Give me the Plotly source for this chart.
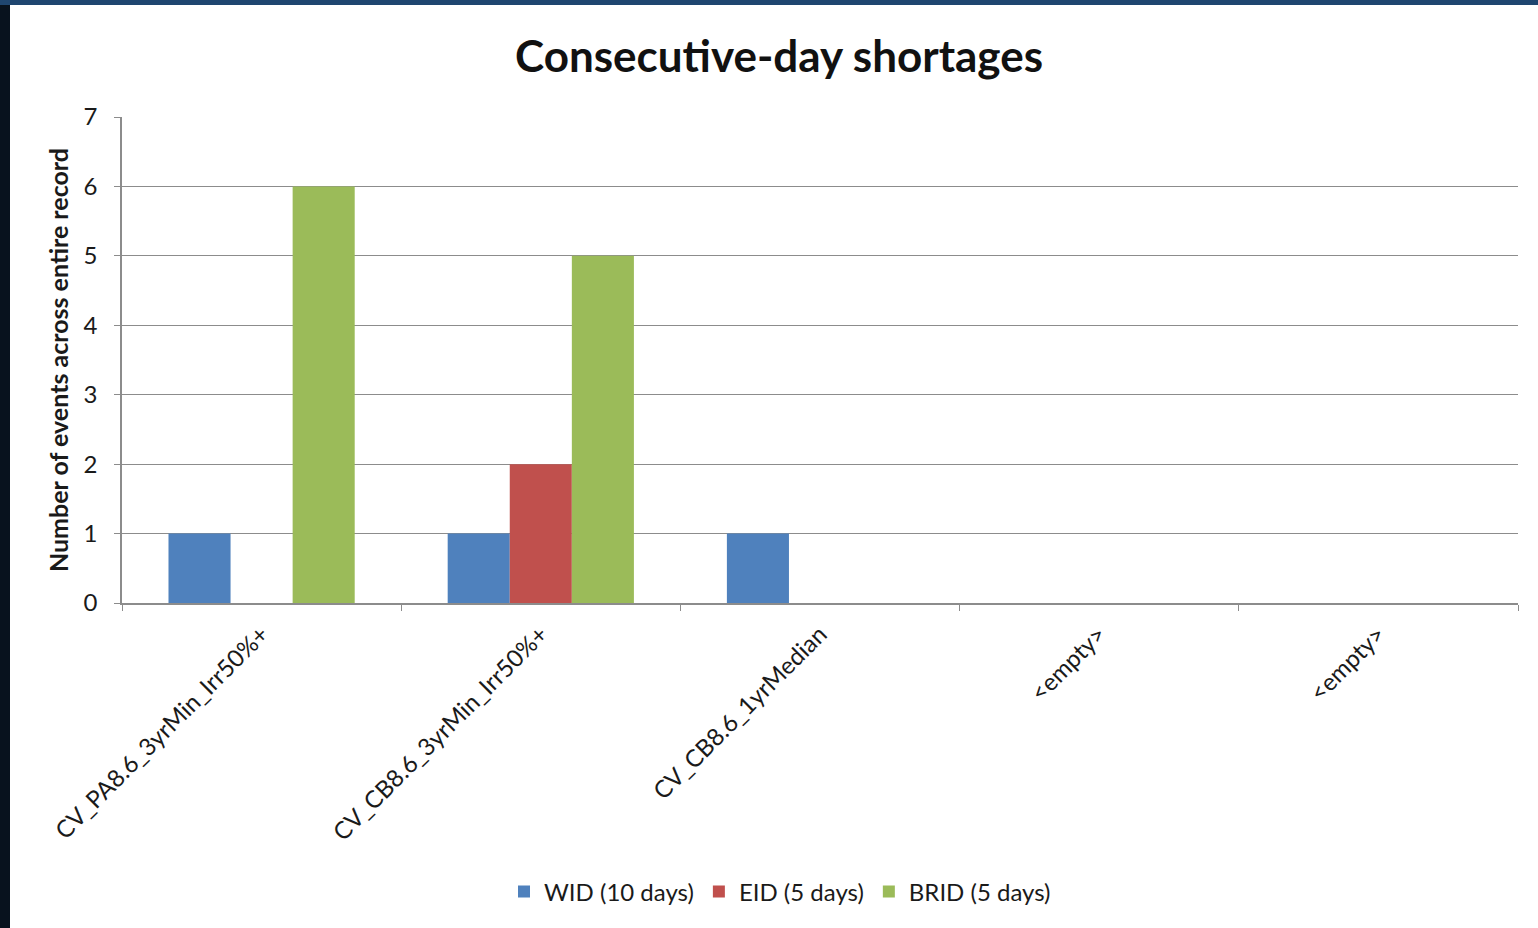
import plotly.graph_objects as go

categories = ["CV_PA8.6_3yrMin_Irr50%+", "CV_CB8.6_3yrMin_Irr50%+", "CV_CB8.6_1yrMedian",
              "&lt;empty&gt;", "&lt;empty&gt;"]
wid = [1, 1, 1, None, None]
eid = [None, 2, None, None, None]
brid = [6, 5, None, None, None]
series_names = ["WID (10 days)", "EID (5 days)", "BRID (5 days)"]
colors = ["#4F81BD", "#C0504D", "#9BBB59"]

xpos = list(range(len(categories)))
FONT = "Lato, 'Open Sans', sans-serif"

fig = go.Figure()
for name, vals, col in zip(series_names, [wid, eid, brid], colors):
    fig.add_trace(go.Bar(x=xpos, y=vals, name=name, marker_color=col, marker_line_width=0))

W, H = 1538, 928
L, R, T, B = 122, 20, 117, 325
pw, ph = W - L - R, H - T - B

fig.update_layout(
    width=W, height=H,
    margin=dict(l=L, r=R, t=T, b=B),
    paper_bgcolor="white", plot_bgcolor="white",
    barmode="group", bargap=0.333, bargroupgap=0,
    font=dict(family=FONT, size=24, color="#1a1a1a"),
    title=dict(text="<b>Consecutive-day shortages</b>", font=dict(size=44, color="#111"),
               x=(779 - L) / pw, xref="paper", xanchor="center",
               y=1 - 57 / H, yref="container", yanchor="middle"),
    legend=dict(orientation="h", x=(780 - L) / pw, xanchor="center",
                y=(T + ph - 892) / ph, yanchor="middle",
                font=dict(size=24), itemwidth=30, traceorder="normal"),
    xaxis=dict(range=[-0.5, len(categories) - 0.5], tickmode="array", tickvals=xpos,
               ticktext=categories, tickangle=-45, ticks="", showgrid=False,
               showline=True, linecolor="#8c8c8c", linewidth=1.5,
               tickfont=dict(size=24), ticklabelstandoff=6,
               minor=dict(tickmode="linear", tick0=-0.5, dtick=1, ticks="outside",
                          ticklen=6, tickcolor="#8c8c8c", showgrid=False)),
    yaxis=dict(range=[0, 7], dtick=1, showgrid=True, gridcolor="#8c8c8c", gridwidth=1.2,
               showline=True, linecolor="#8c8c8c", linewidth=1.5, ticks="outside",
               ticklen=6, tickcolor="#8c8c8c", zeroline=False, tickfont=dict(size=24),
               ticklabelstandoff=12,
               title=dict(text="<b>Number of events across entire record</b>",
                          font=dict(size=25), standoff=8)),
)

# dark slide background edges
fig.add_shape(type="rect", xref="paper", yref="paper",
              x0=(0 - L) / pw, x1=(10 - L) / pw, y0=(T + ph - H) / ph, y1=(T + ph) / ph,
              fillcolor="#08121e", line_width=0, layer="above")
fig.add_shape(type="rect", xref="paper", yref="paper",
              x0=(0 - L) / pw, x1=(W - L) / pw, y0=(T + ph - 0) / ph, y1=(T + ph - 5) / ph,
              fillcolor="#1f4670", line_width=0, layer="above")

fig.write_html("out.html")
